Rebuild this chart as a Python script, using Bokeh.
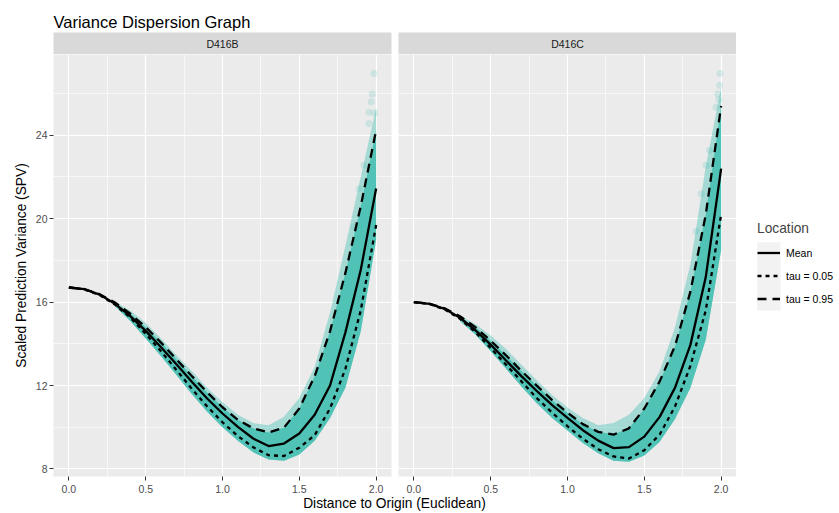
from bokeh.plotting import figure
from bokeh.models import (Range1d, FixedTicker, Legend, LegendItem, Label,
                          NumeralTickFormatter, BoxAnnotation)
from bokeh.layouts import column, row
from bokeh.embed import file_html
from bokeh.resources import INLINE

FONT = "Liberation Sans"

# ---------------- data ----------------
dist = [0.0, 0.1, 0.2, 0.3, 0.4, 0.5, 0.6, 0.7, 0.8, 0.9, 1.0,
        1.1, 1.2, 1.3, 1.4, 1.5, 1.6, 1.7, 1.8, 1.9, 2.0]

b_mean  = [16.70, 16.62, 16.36, 15.92, 15.33, 14.62, 13.84, 13.02, 12.18, 11.38, 10.66,
           10.02, 9.46, 9.10, 9.22, 9.70, 10.60, 12.00, 14.55, 17.55, 21.45]
b_tau05 = [16.70, 16.61, 16.34, 15.88, 15.26, 14.48, 13.64, 12.75, 11.85, 11.00, 10.24,
           9.58, 9.04, 8.66, 8.62, 9.02, 9.62, 10.90, 12.80, 15.60, 19.70]
b_tau95 = [16.70, 16.63, 16.38, 15.98, 15.44, 14.80, 14.06, 13.26, 12.46, 11.68, 10.96,
           10.36, 9.95, 9.75, 9.98, 10.90, 12.45, 14.60, 17.40, 20.60, 24.25]

c_mean  = [16.00, 15.92, 15.68, 15.25, 14.66, 13.96, 13.20, 12.45, 11.74, 11.06, 10.45,
           9.86, 9.36, 9.00, 9.05, 9.55, 10.50, 11.90, 13.95, 17.20, 22.40]
c_tau05 = [16.00, 15.91, 15.65, 15.20, 14.56, 13.80, 13.00, 12.20, 11.40, 10.70, 10.05,
           9.45, 8.95, 8.60, 8.50, 8.90, 9.65, 11.00, 12.95, 15.60, 20.20]
c_tau95 = [16.00, 15.93, 15.70, 15.32, 14.80, 14.15, 13.45, 12.70, 12.00, 11.30, 10.70,
           10.15, 9.78, 9.65, 9.95, 10.90, 12.20, 13.90, 16.50, 20.20, 25.40]

# extent of the simulated SPV point cloud
cloud_x = [0.3, 0.4, 0.5, 0.6, 0.7, 0.8, 0.9, 1.0, 1.1, 1.2,
           1.3, 1.4, 1.5, 1.6, 1.7, 1.8, 1.9, 2.0]
b_cloud_lo = [15.80, 15.10, 14.25, 13.40, 12.50, 11.60, 10.75, 10.00, 9.35, 8.80,
              8.45, 8.40, 8.70, 9.35, 10.45, 11.90, 14.60, 19.00]
b_cloud_hi = [16.00, 15.60, 15.00, 14.25, 13.45, 12.70, 11.90, 11.20, 10.60, 10.20,
              10.10, 10.50, 11.40, 12.90, 15.50, 18.70, 22.00, 25.30]
c_cloud_lo = [15.10, 14.45, 13.65, 12.80, 11.95, 11.15, 10.45, 9.85, 9.25, 8.75,
              8.40, 8.35, 8.65, 9.30, 10.40, 11.90, 14.20, 18.50]
c_cloud_hi = [15.35, 14.95, 14.40, 13.75, 13.00, 12.25, 11.55, 10.95, 10.45, 10.10,
              10.20, 10.60, 11.40, 12.70, 14.80, 17.80, 22.50, 26.30]

# isolated high points near the boundary
b_out_x = [1.986, 1.975, 1.968, 1.953, 1.990, 1.953, 1.920, 1.890, 1.856]
b_out_y = [26.96, 25.98, 25.60, 25.10, 25.07, 24.56, 22.56, 21.44, 19.60]
c_out_x = [1.993, 1.990, 1.978, 1.985, 1.967, 1.924, 1.902, 1.870, 1.837]
c_out_y = [26.96, 26.40, 25.98, 25.70, 25.34, 23.28, 22.56, 21.20, 19.40]

facets = ["D416B", "D416C"]
series_labels = ["Mean", "tau = 0.05", "tau = 0.95"]
series_dash = ["solid", "4 4", "9 6"]
x_ticks = [0.0, 0.5, 1.0, 1.5, 2.0]
x_minor = [0.25, 0.75, 1.25, 1.75]
y_ticks = [8, 12, 16, 20, 24]
y_minor = [10, 14, 18, 22, 26]

TEAL = "#3DBDB0"
FRAME_W, FRAME_H = 338, 422
TOTAL_W = 836
LINE_W = 2.3


def make_panel(mean, t05, t95, lo, hi, ox, oy, left, right, show_y):
    p = figure(frame_width=FRAME_W, frame_height=FRAME_H,
               x_range=Range1d(-0.1, 2.1), y_range=Range1d(7.64, 27.87),
               output_backend="svg", toolbar_location=None,
               min_border_left=left, min_border_right=right,
               min_border_top=0, min_border_bottom=0,
               background_fill_color="#EBEBEB", border_fill_color="white",
               outline_line_color=None,
               y_axis_location="left" if show_y else None)
    p.xaxis.ticker = FixedTicker(ticks=x_ticks, minor_ticks=x_minor)
    p.xgrid.ticker = FixedTicker(ticks=x_ticks, minor_ticks=x_minor)
    p.ygrid.ticker = FixedTicker(ticks=y_ticks, minor_ticks=y_minor)
    p.xaxis.formatter = NumeralTickFormatter(format="0.0")
    p.grid.grid_line_color = "white"
    p.grid.grid_line_width = 1.2
    p.grid.minor_grid_line_color = "white"
    p.grid.minor_grid_line_width = 0.6
    for ax in p.axis:
        ax.axis_line_color = None
        ax.major_tick_line_color = "#333333"
        ax.major_tick_out = 4
        ax.major_tick_in = 0
        ax.minor_tick_line_color = None
        ax.major_label_text_font = FONT
        ax.major_label_text_font_size = "10.5px"
        ax.major_label_text_color = "#4D4D4D"
    p.xaxis.major_label_standoff = 4
    if show_y:
        p.yaxis.ticker = FixedTicker(ticks=y_ticks, minor_ticks=y_minor)
        p.yaxis.major_label_standoff = 2
        p.yaxis.axis_label = "Scaled Prediction Variance (SPV)"
        p.yaxis.axis_label_text_font = FONT
        p.yaxis.axis_label_text_font_size = "13.75px"
        p.yaxis.axis_label_text_font_style = "normal"
        p.yaxis.axis_label_text_color = "black"
        p.yaxis.axis_label_standoff = 4

    # point cloud: faint upper fringe, dense body, isolated points
    p.varea(x=cloud_x, y1=lo, y2=hi, fill_color=TEAL, fill_alpha=0.40)
    p.varea(x=cloud_x, y1=lo, y2=t95[3:], fill_color=TEAL, fill_alpha=0.82)
    p.scatter(x=ox, y=oy, size=7, fill_color=TEAL, fill_alpha=0.18, line_color=None)

    rs = []
    for ys, dash in zip([mean, t05, t95], series_dash):
        rs.append(p.line(dist, ys, line_color="black", line_width=LINE_W, line_dash=dash))
    return p, rs


def make_strip(text, left, right):
    s = figure(frame_width=FRAME_W, frame_height=22, x_range=Range1d(0, 1), y_range=Range1d(0, 1),
               output_backend="svg", toolbar_location=None,
               min_border_left=left, min_border_right=right, min_border_top=0, min_border_bottom=0,
               x_axis_location=None, y_axis_location=None,
               background_fill_color="#D9D9D9", border_fill_color="white", outline_line_color=None)
    s.grid.visible = False
    s.add_layout(Label(x=0.5, y=0.5, text=text, text_align="center", text_baseline="middle",
                       text_font=FONT, text_font_size="10.5px", text_color="#1A1A1A"))
    return s


def blank_fig(width, height):
    f = figure(width=width, height=height, x_range=Range1d(0, width), y_range=Range1d(0, height),
               output_backend="svg", toolbar_location=None,
               min_border_left=0, min_border_right=0, min_border_top=0, min_border_bottom=0,
               x_axis_location=None, y_axis_location=None,
               background_fill_color="white", border_fill_color="white", outline_line_color=None)
    f.grid.visible = False
    return f


p1, _ = make_panel(b_mean, b_tau05, b_tau95, b_cloud_lo, b_cloud_hi, b_out_x, b_out_y, 53, 3, True)
p2, _ = make_panel(c_mean, c_tau05, c_tau95, c_cloud_lo, c_cloud_hi, c_out_x, c_out_y, 4, 0, False)

s1 = make_strip(facets[0], 53, 3)
s2 = make_strip(facets[1], 4, 0)

# legend column to the right of the panels (key glyphs only, no visible data)
LEG_W, LEG_H = 100, 444
leg_fig = blank_fig(LEG_W, LEG_H)
leg_fig.add_layout(BoxAnnotation(left=20.7, right=44, bottom=166, top=234.3,
                                 fill_color="#F2F2F2", fill_alpha=1, line_color=None))
nan = float("nan")
key_rends = [leg_fig.line(x=[nan, nan], y=[nan, nan], line_color="black", line_width=LINE_W, line_dash=d)
             for d in series_dash]
legend = Legend(items=[LegendItem(label=lab, renderers=[r]) for lab, r in zip(series_labels, key_rends)],
                title="Location", location=(21, 166),
                border_line_color=None, background_fill_alpha=0,
                padding=0, margin=0, spacing=0,
                glyph_width=23, glyph_height=23, label_height=23, label_standoff=6,
                label_text_font=FONT, label_text_font_size="10.5px", label_text_color="black",
                title_text_font=FONT, title_text_font_size="13.75px", title_text_font_style="normal",
                title_standoff=5)
leg_fig.add_layout(legend, "center")

title_fig = blank_fig(TOTAL_W, 32)
title_fig.add_layout(Label(x=53, y=32 - 21.7, text="Variance Dispersion Graph", text_align="left",
                           text_baseline="alphabetic", text_font=FONT, text_font_size="16.5px",
                           text_color="black"))

xlab_fig = blank_fig(TOTAL_W, 16)
xlab_fig.add_layout(Label(x=394, y=8, text="Distance to Origin (Euclidean)", text_align="center",
                          text_baseline="middle", text_font=FONT, text_font_size="13.75px",
                          text_color="black"))

layout = column(title_fig, row(column(s1, p1), column(s2, p2), leg_fig), xlab_fig)

open("out.html", "w").write(file_html(layout, INLINE))
